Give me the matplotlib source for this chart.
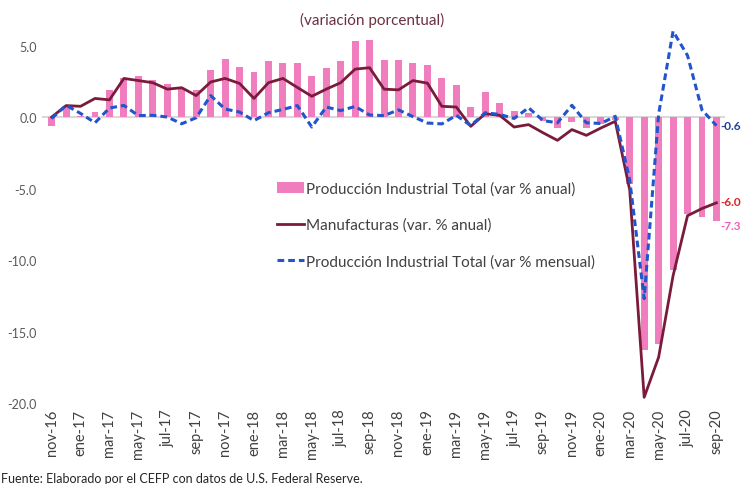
import numpy as np
import matplotlib
matplotlib.use('Agg')
import matplotlib.pyplot as plt

plt.rcParams['font.family'] = ['Lato', 'DejaVu Sans']

meses = ['ene', 'feb', 'mar', 'abr', 'may', 'jun', 'jul', 'ago', 'sep', 'oct', 'nov', 'dic']
periodos = ['nov-16', 'dic-16'] + [m + '-' + a for a in ['17', '18', '19'] for m in meses] \
    + [m + '-20' for m in meses[:9]]

ip_anual = [-0.6, 0.8, 0.05, 0.35, 1.9, 2.7, 2.9, 2.6, 2.3, 2.0,
            1.9, 3.3, 4.05, 3.5, 3.15, 3.9, 3.8, 3.8, 2.85, 3.4,
            3.95, 5.3, 5.4, 4.0, 4.0, 3.75, 3.65, 2.7, 2.25, 0.72,
            1.75, 1.0, 0.45, 0.3, -0.3, -0.75, -0.35, -0.75, -0.5, -0.2,
            -4.7, -16.3, -15.9, -10.7, -6.8, -7.0, -7.3]
manufacturas = [0.0, 0.8, 0.75, 1.3, 1.2, 2.7, 2.55, 2.4, 1.95, 2.05,
                1.5, 2.45, 2.7, 2.35, 1.3, 2.4, 2.7, 2.07, 1.45, 1.95,
                2.4, 3.35, 3.45, 1.95, 1.9, 2.55, 2.37, 0.75, 0.7, -0.65,
                0.23, 0.12, -0.7, -0.53, -1.1, -1.63, -0.88, -1.28, -0.77, -0.3,
                -5.1, -19.6, -16.8, -11.1, -6.9, -6.4, -6.0]
ip_mensual = [-0.1, 0.82, 0.25, -0.4, 0.63, 0.81, 0.1, 0.12, 0.0, -0.47,
              -0.05, 1.5, 0.56, 0.35, -0.25, 0.3, 0.53, 0.8, -0.7, 0.7,
              0.45, 0.74, 0.14, 0.1, 0.5, 0.03, -0.42, -0.48, 0.12, -0.6,
              0.3, 0.18, -0.1, 0.65, -0.25, -0.4, 0.82, -0.4, -0.45, 0.05,
              -4.4, -12.7, 0.2, 6.0, 4.3, 0.5, -0.6]

rosa = '#F07EBE'
guinda = '#7A1B3A'
azul = '#2255CC'

fig = plt.figure(figsize=(7.43, 4.85), dpi=100)
ax = fig.add_axes([0.0569, 0.167, 0.919, 0.796])

x = np.arange(len(periodos))
ax.axhline(0, color='#D9D9D9', lw=1.5, zorder=0)
barras = ax.bar(x, ip_anual, width=0.48, color=rosa, zorder=2,
                label='Producción Industrial Total (var % anual)')
l_man, = ax.plot(x, manufacturas, color=guinda, lw=2, zorder=3,
                 label='Manufacturas (var. % anual)')
l_men, = ax.plot(x, ip_mensual, color=azul, lw=2.2, ls=(0, (2.2, 1.3)), zorder=4,
                 label='Producción Industrial Total (var % mensual)')

ax.set_xlim(-0.65, 46.6)
ax.set_ylim(-20, 7)
ax.set_yticks([-20, -15, -10, -5, 0, 5])
ax.set_yticklabels(['-20.0', '-15.0', '-10.0', '-5.0', '0.0', '5.0'])
ax.set_xticks(x[::2])
ax.set_xticklabels(periodos[::2], rotation=90)
ax.tick_params(axis='y', length=0, pad=4, labelsize=9, labelcolor='#595959')
ax.tick_params(axis='x', length=0, pad=4, labelsize=10.5, labelcolor='#404040')
for s in ax.spines.values():
    s.set_visible(False)

ax.text(x[-1] + 0.3, ip_mensual[-1], '-0.6', color='#1F3E9E', fontsize=8.5,
        fontweight='bold', va='center', ha='left')
ax.text(x[-1] + 0.3, manufacturas[-1] + 0.1, '-6.0', color='#E02020', fontsize=8.5,
        fontweight='bold', va='center', ha='left')
ax.text(x[-1] + 0.3, ip_anual[-1] - 0.3, '-7.3', color='#F060C0', fontsize=8.5,
        fontweight='bold', va='center', ha='left')

ax.legend(handles=[barras, l_man, l_men], loc='upper left',
          bbox_to_anchor=(0.362, 0.64), bbox_transform=fig.transFigure,
          frameon=False, fontsize=11, labelspacing=1.45, handlelength=1.8,
          handletextpad=0.15, borderpad=0, labelcolor='#404040')

fig.text(0.501, 0.958, '(variación porcentual)', ha='center', va='center',
         fontsize=11, color='#6B3040')
fig.text(0.002, 0.012, 'Fuente: Elaborado por el CEFP con datos de U.S. Federal Reserve.',
         ha='left', va='center', fontsize=9, color='#262626')

fig.savefig('out.png', dpi=100)
